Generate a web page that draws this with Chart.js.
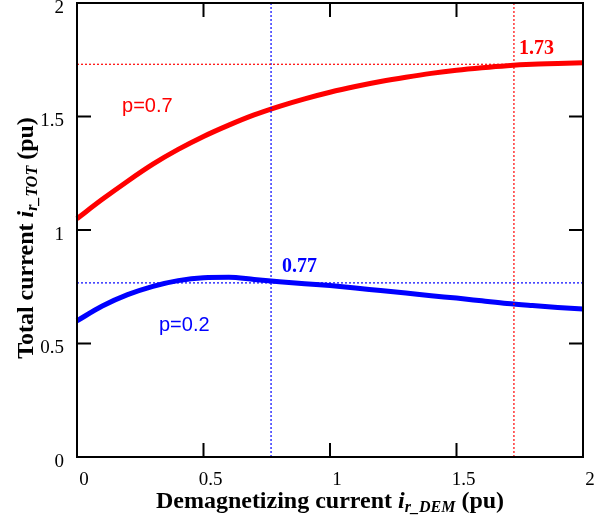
<!DOCTYPE html>
<html>
<head>
<meta charset="utf-8">
<script src="https://cdn.jsdelivr.net/npm/chart.js@4/dist/chart.umd.min.js"></script>
<style>
  html, body { margin: 0; padding: 0; background: #fff; }
  #wrap { width: 611px; height: 522px; }
</style>
</head>
<body>
<div id="wrap"><canvas id="myCanvas" width="611" height="522"></canvas></div>
<script>
// demagnetizing current (pu)
const demCurrent = [0, 0.1, 0.2, 0.3, 0.4, 0.5, 0.6, 0.7, 0.8, 0.9, 1.0,
  1.1, 1.2, 1.3, 1.4, 1.5, 1.6, 1.7, 1.8, 1.9, 2.0];
// total current, p=0.7
const totalP07 = [1.05, 1.135, 1.215, 1.29, 1.355, 1.412, 1.462, 1.507, 1.545, 1.578, 1.607,
  1.632, 1.654, 1.673, 1.69, 1.704, 1.715, 1.724, 1.73, 1.733, 1.737];
// total current, p=0.2
const totalP02 = [0.60, 0.665, 0.715, 0.752, 0.777, 0.79, 0.792, 0.782, 0.772, 0.763, 0.755,
  0.745, 0.733, 0.722, 0.71, 0.70, 0.688, 0.676, 0.667, 0.659, 0.652];

const axisTicks = [0, 0.5, 1, 1.5, 2];
const markP07 = { x: 1.727, y: 1.73, label: "1.73" };
const markP02 = { x: 0.767, y: 0.767, label: "0.77" };

const RED = "#ff0000";
const BLUE = "#0000ff";
const SERIF = "'Liberation Serif', 'Times New Roman', serif";
const SANS = "'Liberation Sans', Arial, sans-serif";

const toPoints = (xs, ys) => xs.map((x, i) => ({ x: x, y: ys[i] }));

const dotted = (pts, color) => ({
  data: pts,
  borderColor: color,
  borderWidth: 1.2,
  borderDash: [2, 2],
  pointRadius: 0,
  tension: 0,
});

const drawRich = (ctx, segs, cx, cy, rot) => {
  ctx.save();
  ctx.translate(cx, cy);
  ctx.rotate(rot);
  ctx.textBaseline = "alphabetic";
  ctx.textAlign = "left";
  let total = 0;
  segs.forEach((s) => { ctx.font = s.font; total += ctx.measureText(s.t).width; });
  let x = -total / 2;
  segs.forEach((s) => {
    ctx.font = s.font;
    ctx.fillText(s.t, x, s.dy || 0);
    x += ctx.measureText(s.t).width;
  });
  ctx.restore();
};

const framePlugin = {
  id: "frame",
  afterDatasetsDraw(chart) {
    const ctx = chart.ctx;
    const a = chart.chartArea;
    const sx = chart.scales.x, sy = chart.scales.y;
    const tl = 14;
    ctx.save();
    ctx.strokeStyle = "#000";
    ctx.lineWidth = 2;
    ctx.strokeRect(a.left, a.top, a.right - a.left, a.bottom - a.top);
    ctx.beginPath();
    axisTicks.forEach((v) => {
      const px = sx.getPixelForValue(v);
      ctx.moveTo(px, a.bottom); ctx.lineTo(px, a.bottom - tl);
      ctx.moveTo(px, a.top); ctx.lineTo(px, a.top + tl);
      const py = sy.getPixelForValue(v);
      ctx.moveTo(a.left, py); ctx.lineTo(a.left + tl, py);
      ctx.moveTo(a.right, py); ctx.lineTo(a.right - tl, py);
    });
    ctx.stroke();

    // annotations
    const put = (txt, font, color, x, y) => {
      ctx.font = font;
      ctx.fillStyle = color;
      ctx.textAlign = "left";
      ctx.textBaseline = "alphabetic";
      ctx.fillText(txt, sx.getPixelForValue(x), sy.getPixelForValue(y));
    };
    put(markP07.label, "bold 20px " + SERIF, RED, 1.747, 1.775);
    put(markP02.label, "bold 20px " + SERIF, BLUE, 0.81, 0.815);
    put("p=0.7", "20px " + SANS, RED, 0.178, 1.52);
    put("p=0.2", "20px " + SANS, BLUE, 0.324, 0.555);

    // axis titles
    ctx.fillStyle = "#000";
    const big = "bold 24px " + SERIF;
    const it = "italic bold 24px " + SERIF;
    const sub = "italic bold 16px " + SERIF;
    drawRich(ctx, [
      { t: "Demagnetizing current ", font: big },
      { t: "i", font: it },
      { t: "r_DEM", font: sub, dy: 4 },
      { t: " (pu)", font: big },
    ], (a.left + a.right) / 2, 508, 0);
    drawRich(ctx, [
      { t: "Total current ", font: big },
      { t: "i", font: it },
      { t: "r_TOT", font: sub, dy: 4 },
      { t: " (pu)", font: big },
    ], 33, 238, -Math.PI / 2);
    ctx.restore();
  },
};

new Chart(document.getElementById("myCanvas"), {
  type: "line",
  data: {
    datasets: [
      dotted([{ x: 0, y: markP07.y }, { x: 2, y: markP07.y }], RED),
      dotted([{ x: markP07.x, y: 0 }, { x: markP07.x, y: 2 }], RED),
      dotted([{ x: 0, y: markP02.y }, { x: 2, y: markP02.y }], BLUE),
      dotted([{ x: markP02.x, y: 0 }, { x: markP02.x, y: 2 }], BLUE),
      {
        label: "p=0.7",
        data: toPoints(demCurrent, totalP07),
        borderColor: RED,
        borderWidth: 5,
        pointRadius: 0,
        cubicInterpolationMode: "monotone",
        clip: 4,
      },
      {
        label: "p=0.2",
        data: toPoints(demCurrent, totalP02),
        borderColor: BLUE,
        borderWidth: 5,
        pointRadius: 0,
        cubicInterpolationMode: "monotone",
        clip: 4,
      },
    ],
  },
  options: {
    responsive: false,
    animation: false,
    devicePixelRatio: 1,
    layout: { padding: { top: 3, right: 28, left: 0, bottom: 0 } },
    plugins: { legend: { display: false }, tooltip: { enabled: false } },
    scales: {
      x: {
        type: "linear",
        min: 0,
        max: 2,
        grid: { display: false },
        border: { display: false },
        ticks: {
          stepSize: 0.5,
          color: "#000",
          font: { family: SERIF, size: 19 },
          padding: 4,
          labelOffset: 7,
          maxRotation: 0,
          callback: (v) => String(v),
        },
        afterFit(scale) {
          scale.height = 65;
          scale.paddingLeft = 0;
          scale.paddingRight = 0;
        },
      },
      y: {
        min: 0,
        max: 2,
        grid: { display: false },
        border: { display: false },
        ticks: {
          stepSize: 0.5,
          color: "#000",
          font: { family: SERIF, size: 19 },
          padding: 5,
          labelOffset: 5,
          callback: (v) => String(v),
        },
        afterFit(scale) {
          scale.width = 77;
          scale.paddingTop = 0;
          scale.paddingBottom = 0;
        },
      },
    },
  },
  plugins: [framePlugin],
});
</script>
</body>
</html>
